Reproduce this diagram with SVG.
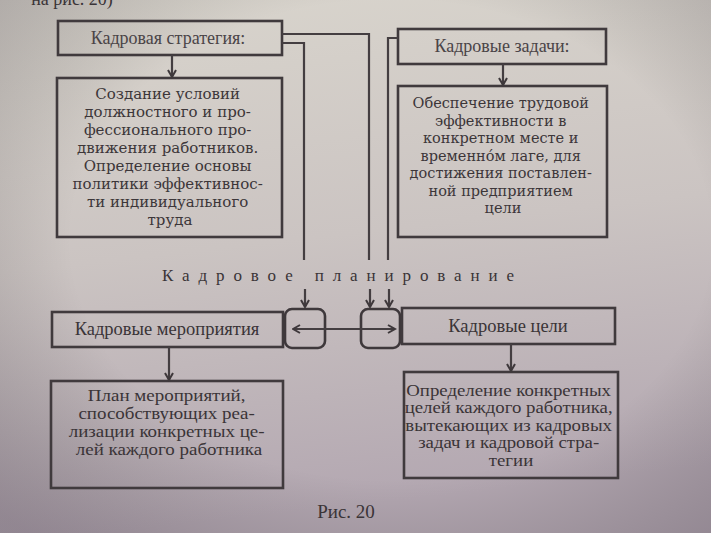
<svg xmlns="http://www.w3.org/2000/svg" width="711" height="533" viewBox="0 0 711 533">
<defs>
<linearGradient id="bg" x1="0" y1="0" x2="0.15" y2="1">
<stop offset="0" stop-color="#d9d5cd"/>
<stop offset="0.5" stop-color="#cbc4c2"/>
<stop offset="1" stop-color="#b3a7b1"/>
</linearGradient>
<radialGradient id="vig" cx="0.55" cy="0.45" r="0.75">
<stop offset="0.6" stop-color="#000" stop-opacity="0"/>
<stop offset="1" stop-color="#2a2030" stop-opacity="0.25"/>
</radialGradient>
<marker id="ah" markerWidth="10" markerHeight="10" refX="8" refY="5" orient="auto" markerUnits="userSpaceOnUse">
<path d="M1,1 L8,5 L1,9" fill="none" stroke="#3e383b" stroke-width="2"/>
</marker>
<marker id="ahs" markerWidth="10" markerHeight="10" refX="1" refY="5" orient="auto" markerUnits="userSpaceOnUse">
<path d="M8,1 L1,5 L8,9" fill="none" stroke="#3e383b" stroke-width="2"/>
</marker>
</defs>
<style>
.box{fill:none;stroke:#403a3d;stroke-width:2.6}
.rbox{fill:none;stroke:#3e383b;stroke-width:2.6}
.ln{fill:none;stroke:#443e41;stroke-width:2.2}
.t{font-family:"Liberation Serif","DejaVu Serif",serif;fill:#3a3437;text-anchor:middle}
.h{font-size:18px;fill:#4a4447}
.hl{font-size:18.5px;fill:#3a3437}
.d{font-family:"DejaVu Serif","Liberation Serif",serif;fill:#3c3639;text-anchor:middle;font-size:15px}
.c{font-size:15.8px}
</style>
<rect width="711" height="533" fill="url(#bg)"/>
<rect width="711" height="533" fill="url(#vig)"/>
<text class="t" x="72" y="5" style="font-size:18px">на рис. 20)</text>

<g id="strategy">
<rect class="box" x="58" y="21" width="224" height="34"/>
<text class="t h" x="168" y="44">Кадровая стратегия:</text>
</g>
<g id="strategy-desc">
<rect class="box" x="57" y="78" width="225" height="159"/>
<text class="d">
<tspan x="170" y="99">Создание условий</tspan>
<tspan x="170" y="117">должностного и про-</tspan>
<tspan x="170" y="135">фессионального про-</tspan>
<tspan x="170" y="153">движения работников.</tspan>
<tspan x="170" y="171">Определение основы</tspan>
<tspan x="170" y="189">политики эффективнос-</tspan>
<tspan x="170" y="207">ти индивидуального</tspan>
<tspan x="170" y="225">труда</tspan>
</text>
</g>
<g id="tasks">
<rect class="box" x="398" y="29" width="208" height="35"/>
<text class="t h" x="502" y="52">Кадровые задачи:</text>
</g>
<g id="tasks-desc">
<rect class="box" x="398" y="86" width="209" height="151"/>
<text class="d" style="font-size:14.5px">
<tspan x="503" y="108">Обеспечение трудовой</tspan>
<tspan x="503" y="125.5">эффективности в</tspan>
<tspan x="503" y="143">конкретном месте и</tspan>
<tspan x="503" y="160.5">временно́м лаге, для</tspan>
<tspan x="503" y="178">достижения поставлен-</tspan>
<tspan x="503" y="195.5">ной предприятием</tspan>
<tspan x="503" y="213">цели</tspan>
</text>
</g>
<g id="planning">
<text class="t" x="338" y="281" style="font-size:17px" textLength="352" lengthAdjust="spacing">Кадровое планирование</text>
</g>
<g id="activities">
<rect class="box" x="52" y="312" width="231" height="35"/>
<text class="t hl" x="167" y="335">Кадровые мероприятия</text>
</g>
<g id="link-left">
<rect class="rbox" x="285" y="309" width="40" height="39" rx="7"/>
</g>
<g id="link-right">
<rect class="rbox" x="361" y="309" width="39" height="39" rx="7"/>
</g>
<g id="goals">
<rect class="box" x="402" y="308" width="213" height="36"/>
<text class="t hl" x="508" y="332">Кадровые цели</text>
</g>
<g id="activities-desc">
<rect class="box" x="51" y="381" width="232" height="107"/>
<g transform="translate(169 0) scale(1.2 1)">
<text class="t c">
<tspan x="0" y="401">План мероприятий,</tspan>
<tspan x="0" y="419">способствующих реа-</tspan>
<tspan x="0" y="437">лизации конкретных це-</tspan>
<tspan x="0" y="455">лей каждого работника</tspan>
</text>
</g>
</g>
<g id="goals-desc">
<rect class="box" x="404" y="372" width="214" height="106"/>
<g transform="translate(511 0) scale(1.19 1)">
<text class="t c">
<tspan x="0" y="396">Определение конкретных</tspan>
<tspan x="0" y="413.5">целей каждого работника,</tspan>
<tspan x="0" y="431">вытекающих из кадровых</tspan>
<tspan x="0" y="448.5">задач и кадровой стра-</tspan>
<tspan x="0" y="466">тегии</tspan>
</text>
</g>
</g>
<text class="t" x="346" y="518" style="font-size:19px">Рис. 20</text>

<g id="connectors">
<path class="ln" d="M172,55 V77" marker-end="url(#ah)"/>
<path class="ln" d="M503,64 V85" marker-end="url(#ah)"/>
<path class="ln" d="M282,34 H369 V260"/>
<path class="ln" d="M282,43 H304 V260"/>
<path class="ln" d="M398,38 H388 V260"/>
<path class="ln" d="M305,289 V307" marker-end="url(#ah)"/>
<path class="ln" d="M370,289 V307" marker-end="url(#ah)"/>
<path class="ln" d="M389,289 V307" marker-end="url(#ah)"/>
<path class="ln" d="M293,329 H395" marker-start="url(#ahs)" marker-end="url(#ah)"/>
<path class="ln" d="M169,347 V380" marker-end="url(#ah)"/>
<path class="ln" d="M511,344 V371" marker-end="url(#ah)"/>
</g>
</svg>
